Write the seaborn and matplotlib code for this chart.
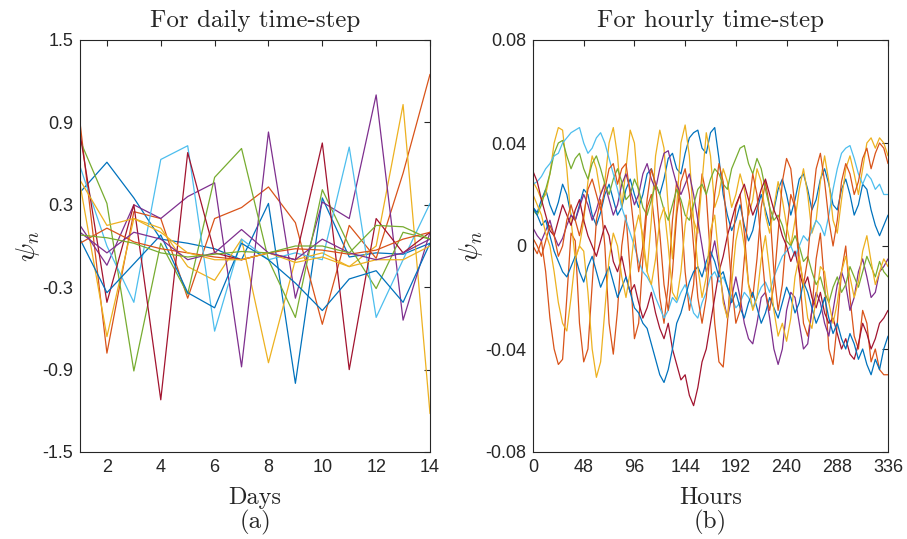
import pandas as pd
import matplotlib
matplotlib.use('Agg')
import matplotlib.pyplot as plt
import seaborn as sns

# MATLAB default colour order
matlab_colors = ['#0072BD', '#D95319', '#EDB120', '#7E2F8E', '#77AC30', '#4DBEEE', '#A2142F']

# ---- (a) daily time-step, days 1..14 ----
days = list(range(1, 15))
daily_blue_a = [0.39, 0.61, 0.35, 0.05, 0.02, -0.02, -0.10, 0.31, -1.00, 0.35, -0.08, -0.05, -0.06, 0.02]
daily_orange_a = [0.90, -0.78, 0.25, 0.20, -0.38, 0.20, 0.28, 0.43, 0.17, -0.57, 0.15, -0.09, 0.53, 1.25]
daily_yellow_a = [0.45, -0.66, 0.20, 0.13, -0.15, -0.25, 0.05, -0.85, -0.10, -0.05, -0.15, 0.00, 1.03, -1.22]
daily_purple_a = [0.15, -0.14, 0.30, 0.20, 0.36, 0.46, -0.88, 0.83, -0.38, 0.32, 0.20, 1.10, -0.54, 0.10]
daily_green_a = [0.77, 0.31, -0.91, 0.02, -0.35, 0.50, 0.71, -0.10, -0.52, 0.41, 0.00, -0.31, 0.10, 0.05]
daily_lightblue = [0.58, 0.00, -0.41, 0.63, 0.73, -0.62, 0.05, -0.10, -0.05, -0.10, 0.72, -0.52, -0.10, 0.31]
daily_darkred = [0.82, -0.41, 0.30, -1.12, 0.68, -0.05, -0.10, -0.05, -0.10, 0.75, -0.90, 0.20, -0.05, 0.10]
daily_blue_b = [0.05, -0.34, -0.13, 0.08, -0.34, -0.45, 0.02, -0.10, -0.27, -0.47, -0.24, -0.18, -0.41, 0.02]
daily_orange_b = [0.02, 0.13, 0.03, -0.02, -0.05, -0.08, -0.10, -0.05, -0.02, -0.03, -0.06, -0.03, 0.05, 0.10]
daily_yellow_b = [0.48, 0.15, 0.20, 0.10, -0.05, -0.10, -0.10, -0.05, -0.12, -0.08, -0.15, -0.10, -0.10, 0.00]
daily_purple_b = [0.10, -0.05, 0.10, 0.05, -0.10, -0.05, 0.12, -0.05, -0.10, 0.05, -0.05, -0.10, -0.05, 0.05]
daily_green_b = [0.08, 0.06, 0.02, -0.05, -0.08, -0.06, -0.04, -0.05, 0.00, 0.00, -0.05, 0.15, 0.14, 0.05]

daily_series = [daily_blue_a, daily_orange_a, daily_yellow_a, daily_purple_a, daily_green_a,
                daily_lightblue, daily_darkred, daily_blue_b, daily_orange_b, daily_yellow_b,
                daily_purple_b, daily_green_b]

# ---- (b) hourly time-step, read every 4 hours 0..336 ----
hours = list(range(0, 337, 4))
hourly_blue_a = [
    .015, .013, .018, .022, .016, .012, .017, .024, .020, .012, .010, .016,
    .022, .020, .012, .008, .013, .020, .024, .018, .012, .015, .022, .026,
    .020, .015, .020, .028, .030, .024, .020, .026, .034, .036, .030, .028,
    .036, .042, .044, .045, .038, .036, .044, .046, .034, .020, .012, .006,
    .010, .016, .008, .002, .006, .014, .020, .014, .008, .014, .022, .026,
    .020, .012, .018, .026, .028, .022, .014, .018, .026, .030, .024, .016,
    .014, .022, .026, .020, .012, .016, .024, .022, .014, .008, .004, .008,
    .012]
hourly_orange_a = [
    .000, -.003, .002, -.010, -.028, -.040, -.046, -.044, -.020, .005, .002, -.030,
    -.045, -.040, -.015, .010, .018, .000, -.030, -.042, -.025, .000, .012, -.010,
    -.036, -.030, -.005, .015, .020, .005, -.020, -.030, -.015, .010, .025, .015,
    -.010, -.025, -.015, .010, .028, .020, -.005, -.030, -.045, -.047, -.030, -.005,
    .015, .020, .005, -.015, -.020, -.005, .015, .025, .015, -.010, -.025, -.015,
    .005, .020, .015, -.010, -.030, -.035, -.025, -.005, .005, -.015, -.040, -.046,
    -.030, -.010, .000, -.020, -.035, -.040, -.025, -.030, -.045, -.040, -.048, -.050,
    -.050]
hourly_yellow_a = [
    .025, .022, .018, .020, .028, .040, .046, .045, .030, .010, -.005, .000,
    .010, .025, .035, .030, .020, .025, .040, .046, .035, .015, .030, .045,
    .040, .020, .000, -.010, .010, .035, .045, .038, .015, -.005, .015, .040,
    .047, .035, .010, .005, .025, .044, .035, .015, .020, .030, .025, .015,
    .020, .028, .022, .012, .018, .030, .025, .012, .005, .015, .025, .018,
    .008, .000, .010, .022, .030, .020, .005, .010, .025, .035, .025, .010,
    .005, .018, .030, .035, .028, .020, .030, .040, .042, .038, .042, .040,
    .035]
hourly_purple = [
    .007, .004, .002, .006, .010, .004, .000, .003, .008, .012, .010, .015,
    .020, .016, .010, .014, .020, .024, .018, .012, .016, .024, .028, .022,
    .016, .020, .028, .032, .026, .022, .030, .036, .037, .030, .024, .020,
    .024, .028, .020, .010, .000, -.010, -.005, .002, -.008, -.020, -.028, -.020,
    -.012, -.020, -.030, -.036, -.038, -.030, -.020, -.018, -.028, -.040, -.046, -.040,
    -.025, -.018, -.020, -.030, -.040, -.038, -.025, -.018, -.022, -.030, -.035, -.025,
    -.015, -.010, -.015, -.025, -.020, -.010, -.005, -.012, -.020, -.018, -.010, -.008,
    -.005]
hourly_green = [
    .014, .012, .016, .022, .028, .036, .040, .041, .035, .030, .034, .036,
    .030, .026, .032, .035, .030, .024, .020, .026, .030, .025, .018, .020,
    .026, .022, .015, .012, .018, .024, .020, .014, .010, .016, .022, .018,
    .012, .010, .016, .022, .024, .020, .026, .030, .028, .024, .022, .030,
    .034, .038, .039, .032, .028, .034, .030, .022, .015, .010, .012, .008,
    .002, .000, .004, .000, -.006, -.004, -.010, -.015, -.012, -.018, -.022, -.016,
    -.012, -.018, -.015, -.008, -.012, -.016, -.010, -.004, -.008, -.012, -.006, -.010,
    -.012]
hourly_lightblue = [
    .024, .025, .027, .030, .032, .035, .036, .040, .042, .044, .045, .046,
    .040, .036, .038, .042, .044, .040, .034, .028, .022, .015, .010, .005,
    .000, -.006, -.010, -.012, -.015, -.020, -.024, -.028, -.025, -.020, -.022, -.018,
    -.015, -.020, -.026, -.028, -.022, -.018, -.012, -.010, -.014, -.012, -.016, -.020,
    -.024, -.022, -.018, -.020, -.024, -.020, -.016, -.014, -.018, -.012, -.008, -.004,
    -.002, .000, -.004, .000, .004, .002, .006, .010, .008, .004, .012, .022,
    .030, .036, .038, .039, .034, .028, .024, .028, .026, .022, .024, .020,
    .020]
hourly_darkred = [
    .029, .025, .018, .012, .006, .004, .010, .016, .012, .008, .014, .018,
    .010, .004, .000, -.004, .002, .008, .004, -.006, -.010, -.004, -.012, -.018,
    -.015, -.022, -.028, -.024, -.018, -.026, -.032, -.036, -.030, -.040, -.046, -.052,
    -.050, -.058, -.062, -.055, -.045, -.040, -.030, -.020, -.010, -.004, .004, .010,
    .016, .020, .024, .018, .012, .016, .022, .026, .020, .014, .010, .004,
    .000, -.006, -.002, -.010, -.016, -.012, -.020, -.024, -.018, -.026, -.030, -.028,
    -.034, -.040, -.036, -.042, -.044, -.038, -.030, -.034, -.040, -.036, -.030, -.028,
    -.025]
hourly_blue_b = [
    .015, .012, .008, .010, .004, -.002, -.006, -.010, -.012, -.008, -.004, -.010,
    -.014, -.008, -.004, -.010, -.016, -.012, -.008, -.014, -.020, -.016, -.012, -.018,
    -.024, -.026, -.030, -.032, -.038, -.044, -.050, -.053, -.048, -.040, -.030, -.026,
    -.020, -.014, -.010, -.008, -.012, -.006, -.002, -.006, -.012, -.010, -.016, -.022,
    -.018, -.024, -.028, -.022, -.018, -.024, -.030, -.026, -.020, -.024, -.028, -.022,
    -.016, -.020, -.026, -.022, -.014, -.018, -.024, -.030, -.026, -.020, -.028, -.034,
    -.030, -.036, -.040, -.034, -.038, -.044, -.040, -.046, -.050, -.044, -.048, -.040,
    -.035]
hourly_orange_b = [
    .003, .000, -.004, .002, .008, .004, -.004, .000, .010, .016, .010, .004,
    .012, .022, .026, .020, .014, .022, .030, .032, .024, .030, .032, .020,
    .005, -.010, .000, .018, .030, .024, .005, -.015, -.025, -.010, .012, .025,
    .030, .020, .000, -.020, -.030, -.020, .000, .020, .032, .025, .005, -.015,
    -.030, -.025, -.005, .015, .028, .020, .000, -.018, -.025, -.015, .005, .025,
    .034, .030, .015, -.005, -.015, -.005, .015, .030, .036, .025, .010, .000,
    .010, .025, .032, .028, .020, .025, .034, .038, .030, .036, .040, .038,
    .032]
hourly_yellow_b = [
    .020, .016, .012, .005, .000, -.010, -.022, -.030, -.033, -.020, -.005, .000,
    -.002, -.018, -.040, -.051, -.045, -.025, -.005, .005, .000, -.012, -.020, -.010,
    .005, .012, .004, -.010, -.015, -.005, .010, .015, .000, -.018, -.021, -.010,
    .008, .018, .010, -.008, -.020, -.012, .006, .012, -.005, -.022, -.028, -.015,
    .002, .010, .000, -.015, -.025, -.020, -.005, .004, -.010, -.025, -.035, -.030,
    -.037, -.028, -.012, -.004, -.015, -.028, -.032, -.020, -.008, -.010, -.022, -.030,
    -.022, -.010, -.004, -.012, -.020, -.014, -.002, .004, -.006, -.015, -.010, -.005,
    -.008]

hourly_series = [hourly_blue_a, hourly_orange_a, hourly_yellow_a, hourly_purple, hourly_green,
                 hourly_lightblue, hourly_darkred, hourly_blue_b, hourly_orange_b, hourly_yellow_b]


def to_long(xs, series_list, xname):
    frames = []
    for i, vals in enumerate(series_list):
        frames.append(pd.DataFrame({xname: xs, 'psi': vals, 'series': i}))
    return pd.concat(frames, ignore_index=True)


df_day = to_long(days, daily_series, 'day')
df_hour = to_long(hours, hourly_series, 'hour')

sns.set_style('white')
plt.rcParams['font.family'] = ['Liberation Sans Narrow', 'Liberation Sans', 'DejaVu Sans']
plt.rcParams['mathtext.fontset'] = 'cm'

serif = 'cmr10'
axis_color = '#262626'

fig = plt.figure(figsize=(9.07, 5.39), dpi=100)
ax1 = fig.add_axes([80 / 907, 87 / 539, 350 / 907, 412 / 539])
ax2 = fig.add_axes([533 / 907, 87 / 539, 355 / 907, 412 / 539])

n_day = len(daily_series)
n_hour = len(hourly_series)
pal_day = [matlab_colors[i % 7] for i in range(n_day)]
pal_hour = [matlab_colors[i % 7] for i in range(n_hour)]

sns.lineplot(data=df_day, x='day', y='psi', hue='series', palette=pal_day,
             estimator=None, legend=False, linewidth=0.9, ax=ax1)
sns.lineplot(data=df_hour, x='hour', y='psi', hue='series', palette=pal_hour,
             estimator=None, legend=False, linewidth=0.9, ax=ax2)

# panel (a)
ax1.set_xlim(1, 14)
ax1.set_ylim(-1.5, 1.5)
ax1.set_xticks([2, 4, 6, 8, 10, 12, 14])
ax1.set_yticks([-1.5, -0.9, -0.3, 0.3, 0.9, 1.5])
ax1.set_yticklabels(['-1.5', '-0.9', '-0.3', '0.3', '0.9', '1.5'])
ax1.set_title('For daily time-step', fontfamily=serif, fontsize=18, pad=9)
ax1.set_xlabel('Days', fontfamily=serif, fontsize=17.5, labelpad=8)
ax1.set_ylabel(r'$\psi_n$', fontsize=20, labelpad=0)

# panel (b)
ax2.set_xlim(0, 336)
ax2.set_ylim(-0.08, 0.08)
ax2.set_xticks([0, 48, 96, 144, 192, 240, 288, 336])
ax2.set_yticks([-0.08, -0.04, 0, 0.04, 0.08])
ax2.set_yticklabels(['-0.08', '-0.04', '0', '0.04', '0.08'])
ax2.set_title('For hourly time-step', fontfamily=serif, fontsize=18, pad=9)
ax2.set_xlabel('Hours', fontfamily=serif, fontsize=17.5, labelpad=8)
ax2.set_ylabel(r'$\psi_n$', fontsize=20, labelpad=0)

for ax in (ax1, ax2):
    ax.tick_params(direction='in', length=4, width=0.8, colors=axis_color,
                   labelsize=13, top=True, right=True, pad=5)
    for sp in ax.spines.values():
        sp.set_color(axis_color)
        sp.set_linewidth(0.8)

fig.text((80 + 175) / 907, 1 - 522 / 539, '(a)', fontfamily=serif, fontsize=18,
         ha='center', va='center')
fig.text((533 + 177) / 907, 1 - 522 / 539, '(b)', fontfamily=serif, fontsize=18,
         ha='center', va='center')

fig.savefig('out.png', dpi=100)
